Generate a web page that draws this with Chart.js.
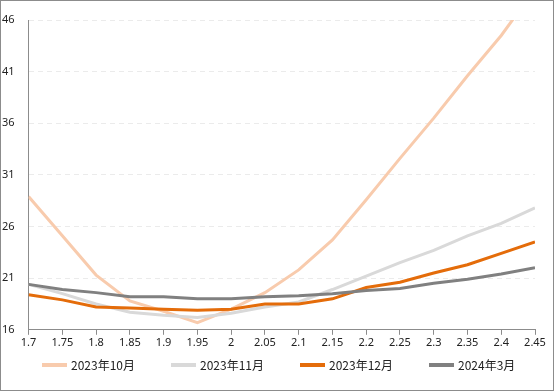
<!DOCTYPE html>
<html>
<head>
<meta charset="utf-8">
<script src="https://cdn.jsdelivr.net/npm/chart.js@4/dist/chart.umd.min.js"></script>
<style>
  html, body { margin: 0; padding: 0; background: #fff; }
  #wrap { width: 554px; height: 391px; box-sizing: border-box; border: 1px solid #8c8c8c; position: relative; }
  #chart { display: block; }
</style>
</head>
<body>
<div id="wrap"><canvas id="chart" width="552" height="389"></canvas></div>
<script>
// categories (x axis)
const xLabels = ['1.7', '1.75', '1.8', '1.85', '1.9', '1.95', '2', '2.05', '2.1', '2.15', '2.2', '2.25', '2.3', '2.35', '2.4', '2.45'];

// series values
const oct2023 = [28.9, 25.1, 21.3, 18.8, 17.8, 16.7, 18.0, 19.6, 21.8, 24.7, 28.6, 32.6, 36.5, 40.6, 44.5, 49.0];
const nov2023 = [20.4, 19.5, 18.5, 17.7, 17.4, 17.2, 17.6, 18.2, 18.7, 19.9, 21.2, 22.5, 23.7, 25.1, 26.3, 27.8];
const dec2023 = [19.4, 18.9, 18.2, 18.1, 18.0, 17.9, 18.0, 18.5, 18.5, 19.0, 20.1, 20.6, 21.5, 22.3, 23.4, 24.5];
const mar2024 = [20.4, 19.9, 19.6, 19.2, 19.2, 19.0, 19.0, 19.2, 19.3, 19.5, 19.8, 20.0, 20.5, 20.9, 21.4, 22.0];

const seriesNames = ['2023年10月', '2023年11月', '2023年12月', '2024年3月'];
const seriesColors = ['#F8CBAD', '#D9D9D9', '#E46C0A', '#808080'];

const yMin = 16, yMax = 46, yStep = 5;

// Légende façon Excel : trait + texte, espacement fixe
const excelLegend = {
    id: 'excelLegend',
    afterDraw: function(chart) {
        const c = chart.ctx;
        const y = 364;
        c.save();
        c.font = '12px "Noto Sans CJK SC", sans-serif';
        c.textBaseline = 'middle';
        c.textAlign = 'left';
        chart.data.datasets.forEach(function(ds, i) {
            const x0 = 41 + i * 129;
            c.strokeStyle = ds.borderColor;
            c.lineWidth = 4;
            c.beginPath();
            c.moveTo(x0, y);
            c.lineTo(x0 + 25, y);
            c.stroke();
            c.fillStyle = '#222';
            c.fillText(ds.label, x0 + 29, y);
        });
        c.restore();
    }
};

const ctx = document.getElementById('chart');
new Chart(ctx, {
    type: 'line',
    data: {
        labels: xLabels,
        datasets: [oct2023, nov2023, dec2023, mar2024].map(function(d, i) {
            return {
                label: seriesNames[i],
                data: d,
                borderColor: seriesColors[i],
                backgroundColor: seriesColors[i],
                borderWidth: 3,
                pointRadius: 0,
                tension: 0,
                clip: 0,
                order: 4 - i   // les séries suivantes par-dessus, comme Excel
            };
        })
    },
    options: {
        responsive: false,
        animation: false,
        layout: { padding: { left: 1, right: 18, top: 19, bottom: 40 } },
        plugins: {
            tooltip: { enabled: false },
            legend: { display: false }
        },
        scales: {
            x: {
                offset: false,
                grid: { display: true, drawOnChartArea: false, drawTicks: true, tickLength: 5, color: '#8c8c8c' },
                border: { color: '#8c8c8c', width: 1 },
                ticks: {
                    color: '#222',
                    maxRotation: 0,
                    autoSkip: false,
                    padding: 1,
                    font: { family: '"Noto Sans", sans-serif', size: 11 }
                }
            },
            y: {
                min: yMin,
                max: yMax,
                grid: { color: '#ebebeb', drawTicks: false },
                border: { color: '#8c8c8c', width: 1, dash: [5, 4] },
                ticks: {
                    stepSize: yStep,
                    color: '#222',
                    padding: 7,
                    crossAlign: 'far',
                    font: { family: '"Noto Sans", sans-serif', size: 11 }
                }
            }
        }
    },
    plugins: [excelLegend]
});
</script>
</body>
</html>
